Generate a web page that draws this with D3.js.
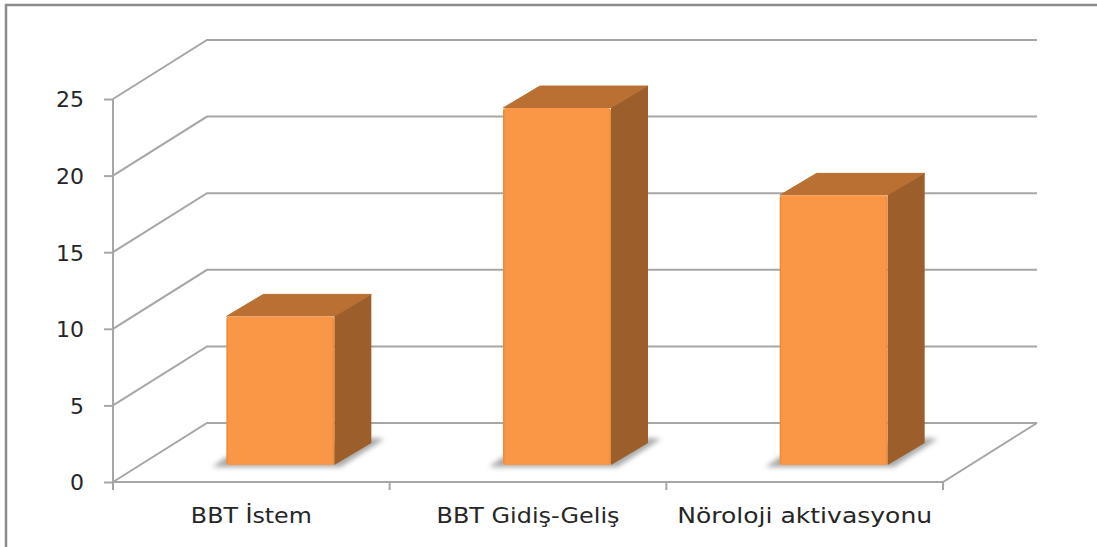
<!DOCTYPE html>
<html>
<head>
<meta charset="utf-8">
<script src="https://cdn.jsdelivr.net/npm/d3@7"></script>
<style>
html,body{margin:0;padding:0;background:#fff;overflow:hidden;}
svg{display:block;}
text{font-family:"DejaVu Sans",sans-serif;fill:#262626;}
</style>
</head>
<body>
<svg id="chart" width="1097" height="547"></svg>
<script>
const categories = ["BBT İstem", "BBT Gidiş-Geliş", "Nöroloji aktivasyonu"];
const values = [9.7, 23.3, 17.6];
const yTicks = [0, 5, 10, 15, 20, 25];

const svg = d3.select("#chart");
const x = d3.scaleBand().domain(categories).range([113, 943]);
const y = d3.scaleLinear().domain([0, 25]).range([482, 99]);

// Oblique projection of the box: wall depth and bar depth
const wallDx = 94, wallDy = -59;
const barShiftX = 29, barShiftY = -17, barW = 108, barDx = 37, barDy = -22;
const grid = "#a6a6a6";
const categoryLabelWidths = [121, 183, 255];

const defs = svg.append("defs");
const blur = defs.append("filter").attr("id", "soft").attr("x", "-20%").attr("y", "-100%").attr("width", "140%").attr("height", "300%");
blur.append("feGaussianBlur").attr("stdDeviation", 2.5);
const front = defs.append("linearGradient").attr("id", "frontFace").attr("x1", 0).attr("x2", 1).attr("y1", 0).attr("y2", 0);
[[0, "#e98a38"], [0.025, "#f99747"], [0.975, "#f99747"], [1, "#e98a38"]].forEach(s =>
  front.append("stop").attr("offset", s[0]).attr("stop-color", s[1]));

// Outer frame: top and left edges sit inside the page, the others run off it
svg.append("path").attr("d", d3.line()([[6, 547], [6, 5], [1097, 5]]))
  .attr("fill", "none").attr("stroke", "#8c8c8c").attr("stroke-width", 2.5);

// Gridlines on the side and back walls
const gridG = svg.append("g").attr("fill", "none").attr("stroke", grid).attr("stroke-width", 2);
yTicks.forEach(t => {
  const py = y(t);
  gridG.append("path").attr("d", d3.line()([
    [x.range()[0], py],
    [x.range()[0] + wallDx, py + wallDy],
    [x.range()[1] + wallDx, py + wallDy]
  ]));
});
// Floor front and right edges
gridG.append("path").attr("d", d3.line()([
  [x.range()[0], y(0)],
  [x.range()[1], y(0)],
  [x.range()[1] + wallDx, y(0) + wallDy]
]));

// Value axis with its ticks and labels
const yAxis = svg.append("g").attr("transform", "translate(113,0)")
  .call(d3.axisLeft(y).tickValues(yTicks).tickSize(9).tickPadding(20).tickSizeOuter(0));
yAxis.select(".domain").remove();
yAxis.selectAll("line").attr("stroke", grid).attr("stroke-width", 2);
yAxis.selectAll("text").attr("font-size", 22).attr("dy", "0.36em");
yAxis.attr("font-family", null).attr("font-size", null);

// Axis line and category separators
const axisG = svg.append("g").attr("stroke", grid).attr("stroke-width", 2);
axisG.append("line").attr("x1", 113).attr("x2", 113).attr("y1", y(25)).attr("y2", y(0) + 8);
categories.forEach(c => axisG.append("line").attr("x1", x(c)).attr("x2", x(c)).attr("y1", y(0)).attr("y2", y(0) + 8));
axisG.append("line").attr("x1", x.range()[1]).attr("x2", x.range()[1]).attr("y1", y(0)).attr("y2", y(0) + 8);

// Category labels
const xAxis = svg.append("g").attr("transform", `translate(0,${y(0)})`)
  .call(d3.axisBottom(x).tickSize(0).tickPadding(0));
xAxis.select(".domain").remove();
xAxis.attr("font-family", null).attr("font-size", null);
xAxis.selectAll("text")
  .attr("y", 41).attr("dy", 0).attr("font-size", 22)
  .attr("textLength", (d, i) => categoryLabelWidths[i]).attr("lengthAdjust", "spacingAndGlyphs");

// Bars: floor shadow, then top, side and front faces
const bars = svg.append("g").selectAll("g").data(categories).join("g");
const barLeft = c => x(c) + x.bandwidth() / 2 - barW / 2 + barShiftX;
const barBase = y(0) + barShiftY;
const barTop = (c, i) => y(values[i]) + barShiftY;

bars.append("path").attr("filter", "url(#soft)").attr("fill", "#a8a8a8")
  .attr("d", c => {
    const l = barLeft(c);
    return d3.line()([[l - 14, barBase + 2], [l + barW + 6, barBase + 2], [l + barW + barDx + 13, barBase + barDy - 4], [l + barW + barDx, barBase + barDy - 5], [l, barBase - 8]]);
  });
bars.append("path").attr("fill", "#b97032").attr("stroke", "#b97032").attr("stroke-linejoin", "round")
  .attr("d", (c, i) => {
    const l = barLeft(c), t = barTop(c, i);
    return d3.line()([[l, t], [l + barDx, t + barDy], [l + barW + barDx, t + barDy], [l + barW, t]]);
  });
bars.append("path").attr("fill", "#9c5f2b")
  .attr("d", (c, i) => {
    const l = barLeft(c), t = barTop(c, i);
    return d3.line()([[l + barW, t], [l + barW + barDx, t + barDy], [l + barW + barDx, barBase + barDy], [l + barW, barBase]]);
  });
bars.append("rect").attr("fill", "url(#frontFace)")
  .attr("x", barLeft).attr("y", barTop).attr("width", barW)
  .attr("height", (c, i) => barBase - barTop(c, i)).attr("rx", 3);
</script>
</body>
</html>
